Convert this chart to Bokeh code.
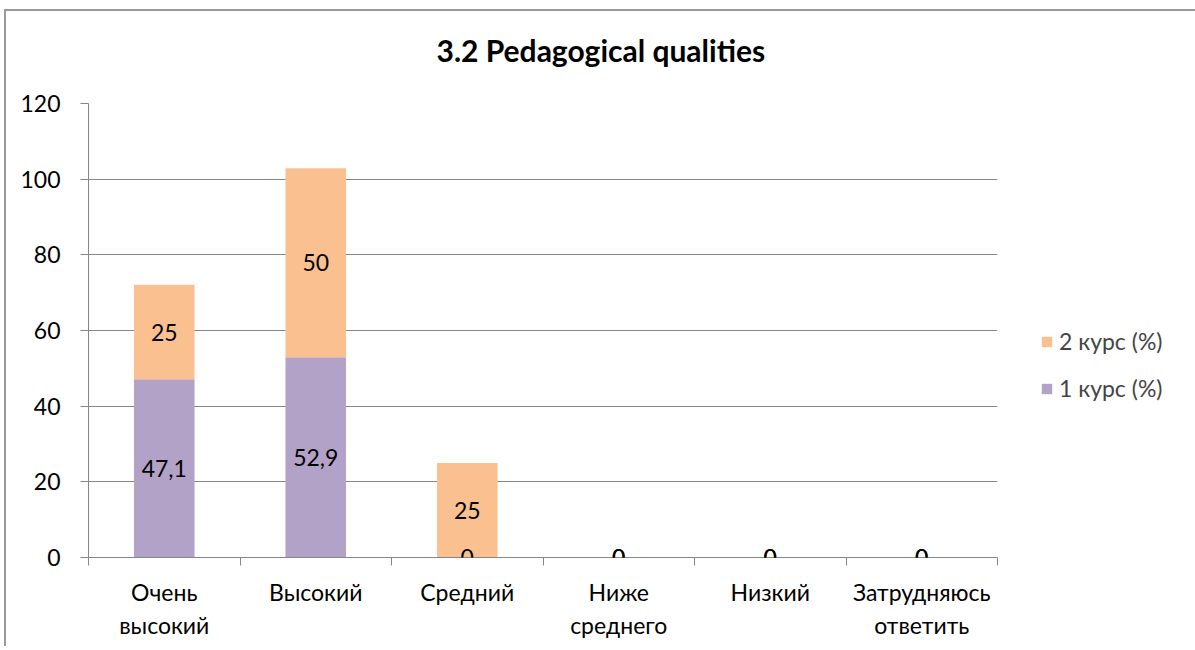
from bokeh.plotting import figure
from bokeh.models import (ColumnDataSource, FixedTicker, Range1d, Legend, LegendItem,
                          LabelSet, Title)
from bokeh.core.properties import value
from bokeh.embed import file_html
from bokeh.resources import INLINE

categories = ["Очень\nвысокий", "Высокий", "Средний", "Ниже\nсреднего", "Низкий", "Затрудняюсь\nответить"]
kurs1 = [47.1, 52.9, 0, 0, 0, 0]
kurs2 = [25, 50, 25, 0, 0, 0]
series_names = ["1 курс (%)", "2 курс (%)"]
y_ticks = [0, 20, 40, 60, 80, 100, 120]

FONT = "Lato"
FS = "23px"
GRID = "#868686"
C1 = "#B3A2C7"
C2 = "#FAC090"


def fmt(v):
    if float(v).is_integer():
        return str(int(v))
    return str(v).replace(".", ",")


xs = [i + 0.5 for i in range(len(categories))]
top1 = [a for a in kurs1]
top2 = [a + b for a, b in zip(kurs1, kurs2)]

src = ColumnDataSource(dict(
    x=xs,
    b1=[0] * len(xs), t1=top1,
    b2=top1, t2=top2,
    m1=[a / 2 for a in kurs1],
    m2=[a + b / 2 for a, b in zip(kurs1, kurs2)],
    l1=[fmt(v) for v in kurs1],
    l2=[fmt(v) for v in kurs2],
))

p = figure(frame_width=909, frame_height=454, output_backend="svg", toolbar_location=None,
           x_range=Range1d(0, len(categories)), y_range=Range1d(0, 120),
           min_border_left=82, min_border_right=194, min_border_top=92, min_border_bottom=89)
p.styles = {"margin-left": "4px", "margin-top": "9px",
            "border-left": "2px solid #9a9a9a", "border-top": "2px solid #9a9a9a"}

p.outline_line_color = None
p.background_fill_color = "white"

r1 = p.vbar(x="x", bottom="b1", top="t1", width=0.4, source=src, fill_color=C1, line_color=None)
r2 = p.vbar(x="x", bottom="b2", top="t2", width=0.4, source=src, fill_color=C2, line_color=None)

for m, l in (("m1", "l1"), ("m2", "l2")):
    p.add_layout(LabelSet(x="x", y=m, text=l, source=src, text_align="center",
                          text_baseline="middle", text_font=value(FONT),
                          text_font_size=FS, text_color="black"))

# y axis
p.yaxis.ticker = FixedTicker(ticks=y_ticks)
p.yaxis.axis_line_color = GRID
p.yaxis.major_tick_line_color = GRID
p.yaxis.major_tick_out = 8
p.yaxis.major_tick_in = 0
p.yaxis.minor_tick_line_color = None
p.yaxis.major_label_text_font = FONT
p.yaxis.major_label_text_font_size = FS
p.yaxis.major_label_text_color = "black"
p.yaxis.major_label_standoff = 20

# x axis
p.xaxis.ticker = FixedTicker(ticks=xs, minor_ticks=list(range(len(categories) + 1)))
p.xaxis.major_label_overrides = {x: c for x, c in zip(xs, categories)}
p.xaxis.axis_line_color = GRID
p.xaxis.major_tick_line_color = None
p.xaxis.major_tick_out = 0
p.xaxis.major_tick_in = 0
p.xaxis.minor_tick_line_color = GRID
p.xaxis.minor_tick_out = 8
p.xaxis.minor_tick_in = 0
p.xaxis.major_label_text_font = FONT
p.xaxis.major_label_text_font_size = FS
p.xaxis.major_label_text_color = "black"
p.xaxis.major_label_text_line_height = 1.2
p.xaxis.major_label_standoff = 12

p.xgrid.grid_line_color = None
p.ygrid.ticker = FixedTicker(ticks=y_ticks)
p.ygrid.grid_line_color = GRID

# spacer between the plot area and the title
p.add_layout(Title(text=" ", text_font=FONT, text_font_size="10px", standoff=22), "above")

p.title = Title(text="3.2 Pedagogical qualities", align="left", offset=348,
                text_font=FONT, text_font_size="30px", text_font_style="bold",
                text_color="black", standoff=0)

legend = Legend(items=[LegendItem(label=series_names[1], renderers=[r2]),
                       LegendItem(label=series_names[0], renderers=[r1])],
                location=(43, 155), orientation="vertical",
                border_line_color=None, background_fill_alpha=0,
                label_text_font=FONT, label_text_font_size=FS,
                glyph_width=13, glyph_height=13, spacing=19, padding=0, margin=0,
                label_standoff=6)
p.add_layout(legend, "right")

open("out.html", "w").write(file_html(p, INLINE))
